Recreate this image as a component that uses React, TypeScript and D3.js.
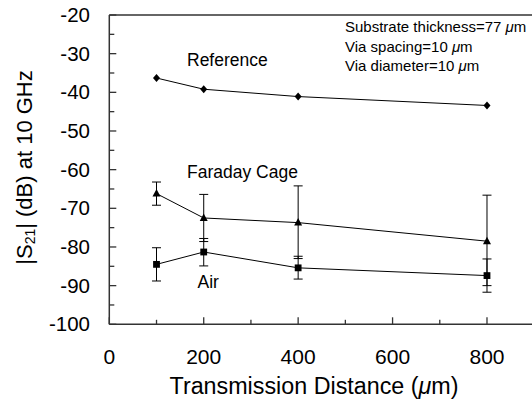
import React from "react";
import * as d3 from "d3";

const distances = [100, 200, 400, 800];
const referenceVals = [-36.3, -39.2, -41.1, -43.4];
const faradayVals = [-66.2, -72.5, -73.7, -78.5];
const faradayLow = [-69.2, -78.6, -83.0, -90.0];
const faradayHigh = [-63.2, -66.4, -64.2, -66.6];
const airVals = [-84.5, -81.3, -85.4, -87.4];
const airLow = [-88.8, -84.9, -88.3, -91.7];
const airHigh = [-80.2, -77.8, -82.4, -83.1];
const yTicks = [-20, -30, -40, -50, -60, -70, -80, -90, -100];
const xTicks = [0, 200, 400, 600, 800];
const annotations = ["Substrate thickness=77 ", "Via spacing=10 ", "Via diameter=10 "];

const W = 532;
const H = 409;
const FONT = "'Liberation Sans', Arial, Helvetica, sans-serif";

export default function App() {
  const x = d3.scaleLinear().domain([0, 900]).range([109.3, 534.2]);
  const y = d3.scaleLinear().domain([-100, -20]).range([324.3, 15]);
  const line = d3
    .line<number>()
    .x((_, i) => x(distances[i]))
    .y((v) => y(v));

  const minorY = d3.range(-95, -20, 10);
  const minorX = d3.range(100, 900, 200);
  const axisColor = "#333";

  const errorBars = (lo: number[], hi: number[], key: string) =>
    distances.map((d, i) => (
      <g key={key + i} stroke="#000" strokeWidth={1}>
        <line x1={x(d)} x2={x(d)} y1={y(lo[i])} y2={y(hi[i])} />
        <line x1={x(d) - 4.5} x2={x(d) + 4.5} y1={y(lo[i])} y2={y(lo[i])} />
        <line x1={x(d) - 4.5} x2={x(d) + 4.5} y1={y(hi[i])} y2={y(hi[i])} />
      </g>
    ));

  return (
    <svg width={W} height={H} style={{ position: "absolute", left: 0, top: 0, background: "#fff" }}>
      <rect width={W} height={H} fill="#fff" />
      {/* axes */}
      <line x1={x(0)} x2={x(0)} y1={y(-20)} y2={y(-100)} stroke={axisColor} strokeWidth={1.5} />
      <line x1={x(0)} x2={W} y1={y(-100)} y2={y(-100)} stroke={axisColor} strokeWidth={1.5} />
      <line x1={x(0)} x2={W} y1={y(-20)} y2={y(-20)} stroke={axisColor} strokeWidth={1.5} />
      {yTicks.map((t) => (
        <line key={"yt" + t} x1={x(0)} x2={x(0) + 7} y1={y(t)} y2={y(t)} stroke={axisColor} strokeWidth={1.3} />
      ))}
      {minorY.map((t) => (
        <line key={"ym" + t} x1={x(0)} x2={x(0) + 5} y1={y(t)} y2={y(t)} stroke={axisColor} strokeWidth={1.3} />
      ))}
      {xTicks.map((t) => (
        <line key={"xt" + t} x1={x(t)} x2={x(t)} y1={y(-100)} y2={y(-100) - 7} stroke={axisColor} strokeWidth={1.3} />
      ))}
      {minorX.map((t) => (
        <line key={"xm" + t} x1={x(t)} x2={x(t)} y1={y(-100)} y2={y(-100) - 4.5} stroke={axisColor} strokeWidth={1.3} />
      ))}
      {yTicks.map((t) => (
        <text key={"yl" + t} x={90} y={y(t) + 7} textAnchor="end" fontFamily={FONT} fontSize={20.5} fill="#000">
          {t}
        </text>
      ))}
      {xTicks.map((t) => (
        <text key={"xl" + t} x={x(t)} y={363.5} textAnchor="middle" fontFamily={FONT} fontSize={21} fill="#000">
          {t}
        </text>
      ))}
      <text x={314} y={394} textAnchor="middle" fontFamily={FONT} fontSize={23.3} fill="#000">
        Transmission Distance (<tspan fontStyle="italic">μ</tspan>m)
      </text>
      <text
        transform="translate(32,167.5) rotate(-90)"
        textAnchor="middle"
        fontFamily={FONT}
        fontSize={22}
        fill="#000"
      >
        |S<tspan fontSize={14} dy={3}>21</tspan>
        <tspan dy={-3}>| (dB) at 10 GHz</tspan>
      </text>

      {/* error bars */}
      {errorBars(faradayLow, faradayHigh, "fe")}
      {errorBars(airLow, airHigh, "ae")}

      {/* lines */}
      <path d={line(referenceVals) || ""} fill="none" stroke="#000" strokeWidth={1} />
      <path d={line(faradayVals) || ""} fill="none" stroke="#000" strokeWidth={1} />
      <path d={line(airVals) || ""} fill="none" stroke="#000" strokeWidth={1} />

      {/* markers */}
      {referenceVals.map((v, i) => {
        const cx = x(distances[i]);
        const cy = y(v);
        return <path key={"rm" + i} d={`M${cx},${cy - 4}L${cx + 3.5},${cy}L${cx},${cy + 4}L${cx - 3.5},${cy}Z`} fill="#000" />;
      })}
      {faradayVals.map((v, i) => {
        const cx = x(distances[i]);
        const cy = y(v);
        return <path key={"fm" + i} d={`M${cx},${cy - 4.5}L${cx + 4},${cy + 3}L${cx - 4},${cy + 3}Z`} fill="#000" />;
      })}
      {airVals.map((v, i) => {
        const cx = x(distances[i]);
        const cy = y(v);
        return <rect key={"am" + i} x={cx - 3.4} y={cy - 3.4} width={6.8} height={6.8} fill="#000" />;
      })}

      {/* labels */}
      <text x={187} y={66} fontFamily={FONT} fontSize={17.5} fill="#000">Reference</text>
      <text x={187} y={177.5} fontFamily={FONT} fontSize={17.5} fill="#000">Faraday Cage</text>
      <text x={197.5} y={287.5} fontFamily={FONT} fontSize={17.5} fill="#000">Air</text>

      {annotations.map((a, i) => (
        <text key={"an" + i} x={345} y={[32.3, 51.7, 71][i]} fontFamily={FONT} fontSize={15} fill="#000">
          {a}
          <tspan fontStyle="italic">μ</tspan>m
        </text>
      ))}
    </svg>
  );
}
